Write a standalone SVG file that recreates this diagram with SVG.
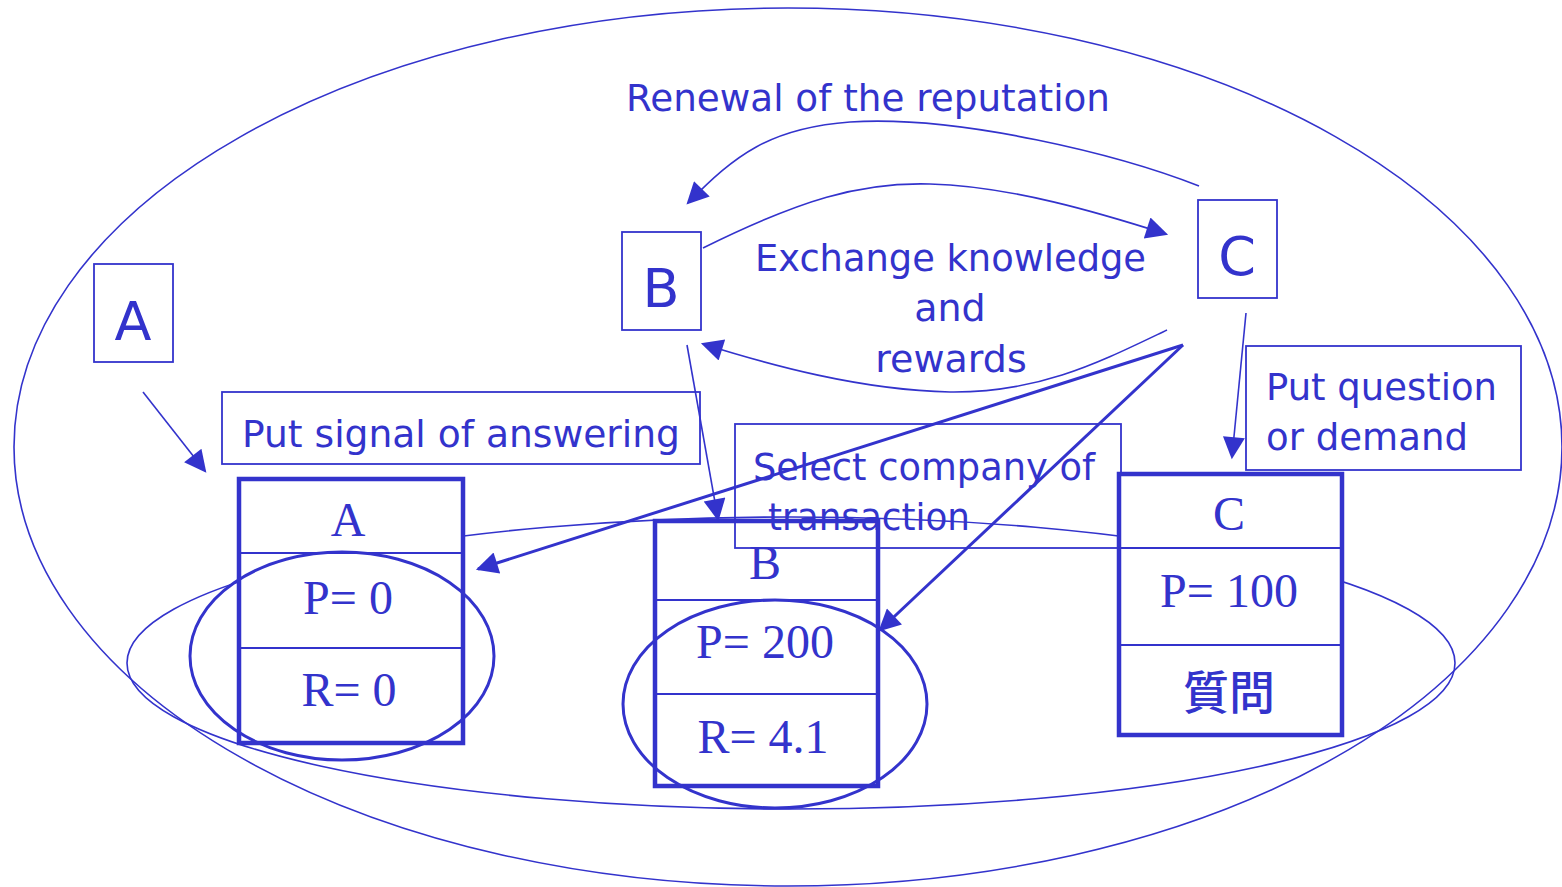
<svg xmlns="http://www.w3.org/2000/svg" width="1562" height="887" viewBox="0 0 1562 887">
<style>
.ln{fill:none;stroke:#3333CC;stroke-width:1.6}
.th{fill:none;stroke:#3333CC;stroke-width:3}
.tb{fill:#fff;stroke:#3333CC;stroke-width:4.5}
.dv{stroke:#3333CC;stroke-width:2.2}
.bx{fill:none;stroke:#3333CC;stroke-width:1.8}
.sb{fill:#fff;stroke:#3333CC;stroke-width:1.8}
.s{font-family:"DejaVu Sans","Noto Sans",sans-serif;fill:#3333CC}
.r{font-family:"Liberation Serif","Times New Roman",serif;fill:#3333CC;font-size:48px;text-anchor:middle}
</style>
<defs>
<marker id="ahb" viewBox="0 0 10 10" refX="9" refY="5" markerWidth="26" markerHeight="22" markerUnits="userSpaceOnUse" orient="auto"><path d="M0,0 L10,5 L0,10 z" fill="#3333CC"/></marker>
</defs>
<rect width="1562" height="887" fill="#fff"/>
<g id="background">
<ellipse class="ln" cx="788" cy="447" rx="774" ry="439"/>
<ellipse class="ln" cx="791" cy="663" rx="664" ry="146"/>
</g>
<g id="labels">
<text class="s" x="626" y="111" font-size="38" textLength="484" lengthAdjust="spacingAndGlyphs">Renewal of the reputation</text>
<text class="s" x="755" y="271" font-size="38" textLength="391" lengthAdjust="spacingAndGlyphs">Exchange knowledge</text>
<text class="s" x="950" y="321" font-size="38" text-anchor="middle">and</text>
<text class="s" x="951" y="372" font-size="38" text-anchor="middle">rewards</text>
</g>
<g id="note-signal">
<rect class="bx" x="222" y="392" width="478" height="72"/>
<text class="s" x="242" y="447" font-size="38" textLength="438" lengthAdjust="spacingAndGlyphs">Put signal of answering</text>
</g>
<g id="note-question">
<rect class="bx" x="1246" y="346" width="275" height="124"/>
<text class="s" x="1266" y="400" font-size="38" textLength="231" lengthAdjust="spacingAndGlyphs">Put question</text>
<text class="s" x="1266" y="450" font-size="38" textLength="202" lengthAdjust="spacingAndGlyphs">or demand</text>
</g>
<g id="agent-A">
<rect class="sb" x="94" y="264" width="79" height="98"/>
<text class="s" x="133" y="340" font-size="54" text-anchor="middle">A</text>
</g>
<g id="agent-B">
<rect class="sb" x="622" y="232" width="79" height="98"/>
<text class="s" x="661" y="307" font-size="54" text-anchor="middle">B</text>
</g>
<g id="agent-C">
<rect class="sb" x="1198" y="200" width="79" height="98"/>
<text class="s" x="1237" y="275" font-size="54" text-anchor="middle">C</text>
</g>
<g id="table-A">
<rect class="tb" x="239" y="479" width="224" height="264"/>
<line class="dv" x1="239" y1="553" x2="463" y2="553"/>
<line class="dv" x1="239" y1="648" x2="463" y2="648"/>
<text class="r" x="348" y="536">A</text>
<text class="r" x="348" y="614">P= 0</text>
<text class="r" x="349" y="706">R= 0</text>
<ellipse class="th" cx="342" cy="656" rx="152" ry="104"/>
</g>
<g id="table-B">
<rect class="tb" x="655" y="521" width="223" height="265"/>
<line class="dv" x1="655" y1="600" x2="878" y2="600"/>
<line class="dv" x1="655" y1="694" x2="878" y2="694"/>
<text class="r" x="765" y="579">B</text>
<text class="r" x="765" y="658">P= 200</text>
<text class="r" x="763" y="753">R= 4.1</text>
<ellipse class="th" cx="775" cy="704" rx="152" ry="104"/>
</g>
<g id="note-select">
<rect class="bx" x="735" y="424" width="386" height="124"/>
<text class="s" x="753" y="480" font-size="38" textLength="342" lengthAdjust="spacingAndGlyphs">Select company of</text>
<text class="s" x="768" y="530" font-size="38" textLength="202" lengthAdjust="spacingAndGlyphs">transaction</text>
</g>
<g id="table-C">
<rect class="tb" x="1119" y="474" width="223" height="261"/>
<line class="dv" x1="1119" y1="548" x2="1342" y2="548"/>
<line class="dv" x1="1119" y1="645" x2="1342" y2="645"/>
<text class="r" x="1229" y="530">C</text>
<text class="r" x="1229" y="607">P= 100</text>
<text x="1229" y="709" font-family="'Noto Sans CJK JP','Noto Sans CJK TC',sans-serif" font-size="46" font-weight="500" fill="#3333CC" text-anchor="middle">質問</text>
</g>
<g id="connectors">
<path class="ln" d="M143,392 L205,471" marker-end="url(#ahb)"/>
<path class="ln" d="M687,345 L718,519" marker-end="url(#ahb)"/>
<path class="ln" d="M1246,313 L1232,457" marker-end="url(#ahb)"/>
<path class="ln" d="M1199,186 C1120,155 960,115 850,122 C770,128 735,155 688,203" marker-end="url(#ahb)"/>
<path class="ln" d="M703,248 C800,200 860,182 930,184 C1010,186 1100,213 1166,234" marker-end="url(#ahb)"/>
<path class="ln" d="M1167,330 C1100,362 1040,393 950,392 C860,390 770,365 703,344" marker-end="url(#ahb)"/>
<path class="th" d="M1183,345 L478,569" marker-end="url(#ahb)"/>
<path class="th" d="M1183,345 L880,630" marker-end="url(#ahb)"/>
</g>
</svg>
